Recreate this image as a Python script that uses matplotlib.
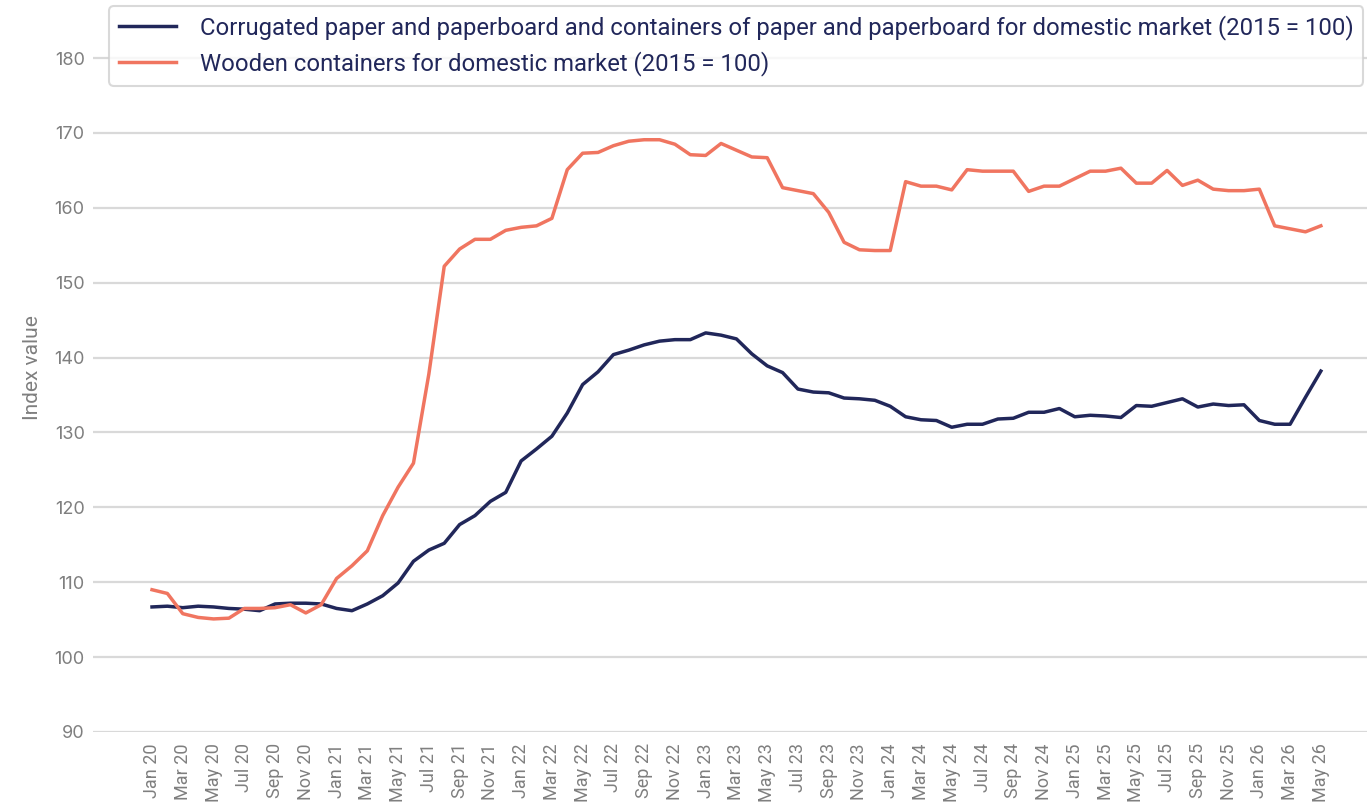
import matplotlib
matplotlib.use('Agg')
import matplotlib.pyplot as plt

# months Jan 2020 .. May 2026
month_names = ['Jan', 'Feb', 'Mar', 'Apr', 'May', 'Jun', 'Jul', 'Aug', 'Sep', 'Oct', 'Nov', 'Dec']
months = [m + ' ' + str(y)[2:] for y in range(2020, 2027) for m in month_names][:77]

corrugated = [106.7, 106.8, 106.6, 106.8, 106.7, 106.5, 106.4, 106.2, 107.1, 107.2, 107.2, 107.1,
              106.5, 106.2, 107.1, 108.2, 109.9, 112.8, 114.3, 115.2, 117.7, 118.9, 120.8, 122.0,
              126.2, 127.8, 129.5, 132.6, 136.4, 138.1, 140.4, 141.0, 141.7, 142.2, 142.4, 142.4,
              143.3, 143.0, 142.5, 140.5, 138.9, 138.0, 135.8, 135.4, 135.3, 134.6, 134.5, 134.3,
              133.5, 132.1, 131.7, 131.6, 130.7, 131.1, 131.1, 131.8, 131.9, 132.7, 132.7, 133.2,
              132.1, 132.3, 132.2, 132.0, 133.6, 133.5, 134.0, 134.5, 133.4, 133.8, 133.6, 133.7,
              131.6, 131.1, 131.1, 134.7, 138.2]

wooden = [109.0, 108.5, 105.8, 105.3, 105.1, 105.2, 106.5, 106.5, 106.6, 107.0, 105.9, 107.0,
          110.5, 112.2, 114.2, 118.9, 122.7, 125.9, 137.8, 152.2, 154.5, 155.8, 155.8, 157.0,
          157.4, 157.6, 158.6, 165.1, 167.3, 167.4, 168.3, 168.9, 169.1, 169.1, 168.5, 167.1,
          167.0, 168.6, 167.7, 166.8, 166.7, 162.7, 162.3, 161.9, 159.4, 155.4, 154.4, 154.3,
          154.3, 163.5, 162.9, 162.9, 162.4, 165.1, 164.9, 164.9, 164.9, 162.2, 162.9, 162.9,
          163.9, 164.9, 164.9, 165.3, 163.3, 163.3, 165.0, 163.0, 163.7, 162.5, 162.3, 162.3,
          162.5, 157.6, 157.2, 156.8, 157.6]

labels = ['Corrugated paper and paperboard and containers of paper and paperboard for domestic market (2015 = 100)',
          'Wooden containers for domestic market (2015 = 100)']
yticks = [90, 100, 110, 120, 130, 140, 150, 160, 170, 180]

narrow = 'Roboto'

fig = plt.figure(figsize=(13.67, 8.05), dpi=100)
ax = fig.add_axes([0.068, 0.0907, 0.932, 0.905])

x = list(range(len(months)))
ax.plot(x, corrugated, color='#21275a', lw=2.5, label=labels[0])
ax.plot(x, wooden, color='#f07560', lw=2.5, label=labels[1])

ax.set_xlim(-3.84, 79)
ax.set_ylim(90, 187.3)
ax.set_yticks(yticks)
ax.set_xticks(x[::2])
ax.set_xticklabels(months[::2], rotation=90, fontsize=13, color='#7f7f7f', family=narrow)
for t in ax.get_yticklabels():
    t.set_fontsize(13)
    t.set_color('#7f7f7f')
    t.set_family('Inter')
ax.tick_params(axis='y', length=0, pad=6)
ax.tick_params(axis='x', length=0, pad=8)
ax.grid(axis='y', color='#d9d9d9', lw=1.6)
ax.set_axisbelow(True)
for s in ax.spines.values():
    s.set_visible(False)
ax.set_ylabel('Index value', fontsize=15, color='#7f7f7f', family=narrow, labelpad=9)

leg = ax.legend(loc='upper right', bbox_to_anchor=(0.999, 1.0), prop={'family': narrow, 'size': 17.2},
                handlelength=2.4, handletextpad=1.0, labelspacing=0.45, frameon=True, fancybox=True,
                borderaxespad=0.1)
for t in leg.get_texts():
    t.set_color('#21275a')
leg.get_frame().set_edgecolor('#d0d0d0')
leg.get_frame().set_linewidth(1.5)

fig.savefig('out.png', dpi=100)
